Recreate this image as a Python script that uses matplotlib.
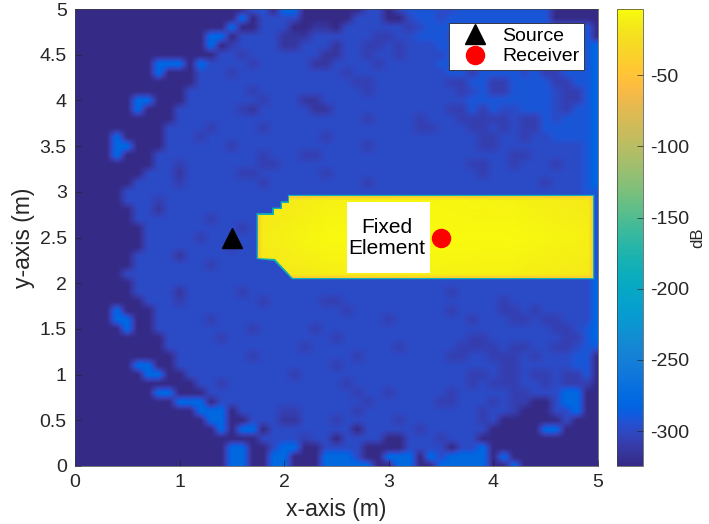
import numpy as np
import matplotlib
matplotlib.use("Agg")
import matplotlib.pyplot as plt
from matplotlib.colors import LinearSegmentedColormap, Normalize
from matplotlib.patches import Polygon, Rectangle
from matplotlib.cm import ScalarMappable

plt.rcParams['font.family'] = ['Liberation Sans', 'DejaVu Sans']
plt.rcParams['axes.unicode_minus'] = False

# ---------------- data ----------------
grid_step = 0.1          # node spacing of the field (m), nodes at 0.0 .. 5.0
# level codes used in the field rows (dB)
level_db = {'.': -324.5, 'a': -314, 'b': -307, 'c': -299, 'd': -291, 'e': -277}
# rows from y = 5.0 (top) to y = 0.0 (bottom); columns x = 0.0 .. 5.0
field_rows = [
    ".......... .......dd. ee......cc .cdddccddd dddddd.... .",
    ".......... ......e.cc cc.....ccc ..cddcdddd dddddd.... .",
    ".......... .....e..cc c..aa.cccc ccbcdddddd dddddddddd .",
    ".......... ...ee.cccc aaaccccccb bccdddcddd dddddddddd .",
    ".......... ...e.bcccc aacccaccbb cbcccddddd dddddddddd e",
    ".......... ....ccbccc ccccaaccbc cbccccdcdd dddddddddd e",
    "........ee e.eccccbcc cccaaccccb cccccddddd dddddbdddd e",
    "........e. ..cccbcccc ccccccbccc ccccccddbd dddcdbbddd e",
    ".......... ..cccccccc cccccccbbc ccccccbbdd bbddddbbdd e",
    ".......... .ccccccbcc ccccccccbc cccccccbcd bbddddcbbd e",
    "......ee.. .cccccccbc ccaacccccc ccccccccdd ddddddcbbd e",
    "......e... ccccccbacc cccaaccccc ccccccbbdb dccdddcbdd e",
    ".......... cccccccccc ccccccccbc cccbcccbbb bbcbbdcddd e",
    ".........c cccbccccbc cccccccccc cccbbcccbb cbcbbddddd e",
    "....e....c ccbccccccc ccccbccccc cccccccccb bccbccdddd e",
    "....ee...c cccccbcccc ccccccccbc cccccccccb bccccccccd e",
    "....e...cc ccccccccbc ccbbcccccc cccccccccc ccbbcccccd e",
    "........cc bcccccccbb cccccccccc ccccccccbb ccbcccbccd e",
    ".......ccc acccccbbcc ccccbccccc cccccccccb cccccccccd e",
    "......cccc bcccccccbc ccccccccbc cccccccccc cccccbcccd e",
    ".....ccccc cccccccccc cccccccccc cccccccccc cccccccccd d",
    ".....cccbc cccccccccc cccccccccc cccccccccc cccccccccc d",
    "......ccac cccccccccc cccccccccc cccccccccc cccccccccc d",
    "......cccc cccbcccccc cccccccccc cccccccccc cccccccccc d",
    ".......ccc ccccccbccc cccccccccc cccccccccc cccccccccc d",
    ".......ccc ccbccccccc cccccccccc cccccccccc cccccccccc d",
    ".......ccc cccccbcccc cccccccccc cccccccccc cccccccccc d",
    "......cccc accccccccc cccccccccc cccccccccc cccccccccc d",
    "......cccc cccbcccccc cccccccccc cccccccccc cccccccccc d",
    ".....ccccc cccccccccc cccccccccc cccccccccc cccccccccc d",
    "......cccc cccccccccc cccccccccc cccccccccc cccccccccc e",
    "......cccc acccccbccc cccccccccc ccccccbccc cccccccccc e",
    ".......ccc bcccccccbc ccccbbcccc cccccccccc cbcccccccc e",
    "....e...cc cccccccccc ccccccbccc ccccccbccc cbbcbccccc e",
    "....ee..cc cccbcccccc cccccccccc bcccccccbc ccbbcbbccc e",
    ".....e..cc cccccccbcc cccbcccccc cccccccccc ccccccbbcd e",
    ".........c ccccbccccc cccccbcccc ccccccccbb cccccccbbd e",
    ".........c cccccccccc ccbccccccc cbcccccbbb bcbbccbbcd d",
    ".......... cccccccbcc cccccccbcc ccccccbbcc bbbcbcccdd .",
    "......ee.. cccccccccc cccccbcccc cccccccccc cbbcccccdd .",
    ".......ee. .ccccccccc cbcccccccc ccccccccbb cbbcbbcbbd .",
    ".......... ..ccbccccc ccccccbccc ccccccccbc bbbccbcbbb .",
    "........ee ...ccccccc cccccccbcc bcccccbccc ccbbcccee. .",
    ".......... eee.cccccc ccccccccbc cccccbbccc bcbb..cee. .",
    ".......... ..eee.cccc bbcccccbcc cccccccccb ccb...cce. .",
    ".......... ...ee..ccc aacccbcccc cbcccccccb c......c.. .",
    ".......... ....e.ee.c ccccccc.cc cccbcccccc .....ee... .",
    ".......... ........cc ccbcc.cccc ..cccbccc. .......... .",
    ".......... .....ee..c ee..cccc.. ..cccc.cce .......... .",
    ".......... .....ee..e e...eeec.. eee.eceeee .e........ .",
    ".......... .....ee..e e...eeeee. .ee..eeeee ..e....... .",
]

# fixed element (outline and its level field)
element_outline_x = [1.75, 1.75, 1.90, 1.90, 1.98, 1.98, 2.05, 2.05, 4.95, 4.95, 2.08, 1.91]
element_outline_y = [2.28, 2.75, 2.75, 2.81, 2.81, 2.88, 2.88, 2.95, 2.95, 2.06, 2.06, 2.26]
element_x = [1.75, 1.79, 2.4, 3.3, 4.2, 4.91, 4.95]
element_y = [2.06, 2.10, 2.5, 2.91, 2.95]
element_db = [
    [-45, -45, -45, -45, -45, -45, -45],
    [-45, -18, -12, -9, -11, -16, -45],
    [-45, -13, -6, -4, -5, -11, -45],
    [-45, -18, -10, -7, -9, -15, -45],
    [-45, -45, -45, -45, -45, -45, -45],
]
rim_db = -185

source_x, source_y = [1.5], [2.5]
receiver_x, receiver_y = [3.5], [2.5]

xticks = [0, 1, 2, 3, 4, 5]
yticks = [0, 0.5, 1, 1.5, 2, 2.5, 3, 3.5, 4, 4.5, 5]
ytick_labels = ['0', '0.5', '1', '1.5', '2', '2.5', '3', '3.5', '4', '4.5', '5']
cbar_ticks = [-300, -250, -200, -150, -100, -50]
clim = (-324.5, -3.5)

# ---------------- parula colormap ----------------
PARULA = [
    [0.2081, 0.1663, 0.5292], [0.2116, 0.1898, 0.5777], [0.2123, 0.2138, 0.6270],
    [0.2081, 0.2386, 0.6771], [0.1959, 0.2645, 0.7279], [0.1707, 0.2919, 0.7792],
    [0.1253, 0.3242, 0.8303], [0.0591, 0.3598, 0.8683], [0.0117, 0.3875, 0.8820],
    [0.0060, 0.4086, 0.8828], [0.0165, 0.4266, 0.8786], [0.0329, 0.4430, 0.8720],
    [0.0498, 0.4586, 0.8641], [0.0629, 0.4737, 0.8554], [0.0723, 0.4887, 0.8467],
    [0.0779, 0.5040, 0.8384], [0.0793, 0.5200, 0.8312], [0.0749, 0.5375, 0.8263],
    [0.0641, 0.5570, 0.8240], [0.0488, 0.5772, 0.8228], [0.0343, 0.5966, 0.8199],
    [0.0265, 0.6137, 0.8135], [0.0239, 0.6287, 0.8038], [0.0231, 0.6418, 0.7913],
    [0.0228, 0.6535, 0.7768], [0.0267, 0.6642, 0.7607], [0.0384, 0.6743, 0.7436],
    [0.0590, 0.6838, 0.7254], [0.0843, 0.6928, 0.7062], [0.1133, 0.7015, 0.6859],
    [0.1453, 0.7098, 0.6646], [0.1801, 0.7177, 0.6424], [0.2178, 0.7250, 0.6193],
    [0.2586, 0.7317, 0.5954], [0.3022, 0.7376, 0.5712], [0.3482, 0.7424, 0.5473],
    [0.3953, 0.7459, 0.5244], [0.4420, 0.7481, 0.5033], [0.4871, 0.7491, 0.4840],
    [0.5300, 0.7491, 0.4661], [0.5709, 0.7485, 0.4494], [0.6099, 0.7473, 0.4337],
    [0.6473, 0.7456, 0.4188], [0.6834, 0.7435, 0.4044], [0.7184, 0.7411, 0.3905],
    [0.7525, 0.7384, 0.3768], [0.7858, 0.7356, 0.3633], [0.8185, 0.7327, 0.3498],
    [0.8507, 0.7299, 0.3360], [0.8824, 0.7274, 0.3217], [0.9139, 0.7258, 0.3063],
    [0.9450, 0.7261, 0.2886], [0.9739, 0.7314, 0.2666], [0.9938, 0.7455, 0.2403],
    [0.9990, 0.7653, 0.2164], [0.9955, 0.7861, 0.1967], [0.9880, 0.8066, 0.1794],
    [0.9789, 0.8271, 0.1633], [0.9697, 0.8481, 0.1475], [0.9626, 0.8705, 0.1309],
    [0.9589, 0.8949, 0.1132], [0.9598, 0.9218, 0.0948], [0.9661, 0.9514, 0.0755],
    [0.9763, 0.9831, 0.0538],
]
parula = LinearSegmentedColormap.from_list('parula', PARULA, N=256)
norm = Normalize(vmin=clim[0], vmax=clim[1])

# ---------------- figure ----------------
W, H = 709, 524
fig = plt.figure(figsize=(W / 100, H / 100), dpi=100)
ax = fig.add_axes([75 / W, 1 - 466 / H, 523 / W, 457 / H])
cax = fig.add_axes([617 / W, 1 - 466 / H, 26 / W, 457 / H])

codes = [r.replace(' ', '') for r in field_rows]
codes = [(r + '.' * 51)[:51] for r in codes]
field = np.array([[level_db[ch] for ch in r] for r in codes])
ncol = field.shape[1]
nrow = field.shape[0]
ext = [-grid_step / 2, (ncol - 1) * grid_step + grid_step / 2,
       -grid_step / 2, (nrow - 1) * grid_step + grid_step / 2]
ax.imshow(field, origin='upper', extent=ext, cmap=parula, norm=norm,
          interpolation='bilinear', interpolation_stage='data', aspect='auto', zorder=1)

# fixed element
outline = Polygon(np.column_stack([element_outline_x, element_outline_y]), closed=True,
                  facecolor='none', edgecolor=parula(norm(rim_db)), linewidth=2.2,
                  joinstyle='miter', zorder=3)
ax.add_patch(outline)
mesh = ax.pcolormesh(element_x, element_y, np.array(element_db, dtype=float),
                     shading='gouraud', cmap=parula, norm=norm, zorder=3.5)
mesh.set_clip_path(outline)

# label box
ax.add_patch(Rectangle((2.60, 2.11), 0.79, 0.78, facecolor='white', edgecolor='none', zorder=4))
ax.text(2.985, 2.495, 'Fixed\nElement', ha='center', va='center', fontsize=15,
        linespacing=1.1, color='black', zorder=5)

ax.plot(source_x, source_y, linestyle='none', marker='^', color='black', markersize=14,
        label='Source', zorder=6)
ax.plot(receiver_x, receiver_y, linestyle='none', marker='o', color='red', markersize=13,
        label='Receiver', zorder=6)

ax.set_xlim(0, 5)
ax.set_ylim(0, 5)
ax.set_xticks(xticks)
ax.set_xticklabels([str(v) for v in xticks])
ax.set_yticks(yticks)
ax.set_yticklabels(ytick_labels)
ax.tick_params(direction='in', length=4, width=0.5, colors='#262626', labelsize=14, pad=6)
for s in ax.spines.values():
    s.set_linewidth(0.5)
    s.set_color('#404040')
ax.set_xlabel('x-axis (m)', fontsize=16.5, color='#262626', labelpad=5)
ax.set_ylabel('y-axis (m)', fontsize=16.5, color='#262626', labelpad=3)

leg = ax.legend(loc='upper right', bbox_to_anchor=(0.973, 0.969), borderaxespad=0,
                fontsize=14, frameon=True, fancybox=False, edgecolor='#262626',
                framealpha=1, borderpad=0.22, labelspacing=0.14, handletextpad=0.3,
                handlelength=2.2, numpoints=1)
leg.get_frame().set_linewidth(0.6)

sm = ScalarMappable(norm=norm, cmap=parula)
cb = fig.colorbar(sm, cax=cax)
cb.set_ticks(cbar_ticks)
cb.set_ticklabels([str(v) for v in cbar_ticks])
cb.outline.set_linewidth(0.5)
cb.outline.set_edgecolor('#404040')
cax.tick_params(direction='in', length=4, width=0.5, colors='#262626', labelsize=14, pad=5)
cb.set_label('dB', fontsize=12, color='#262626', labelpad=1)

fig.savefig('out.png', dpi=100)
